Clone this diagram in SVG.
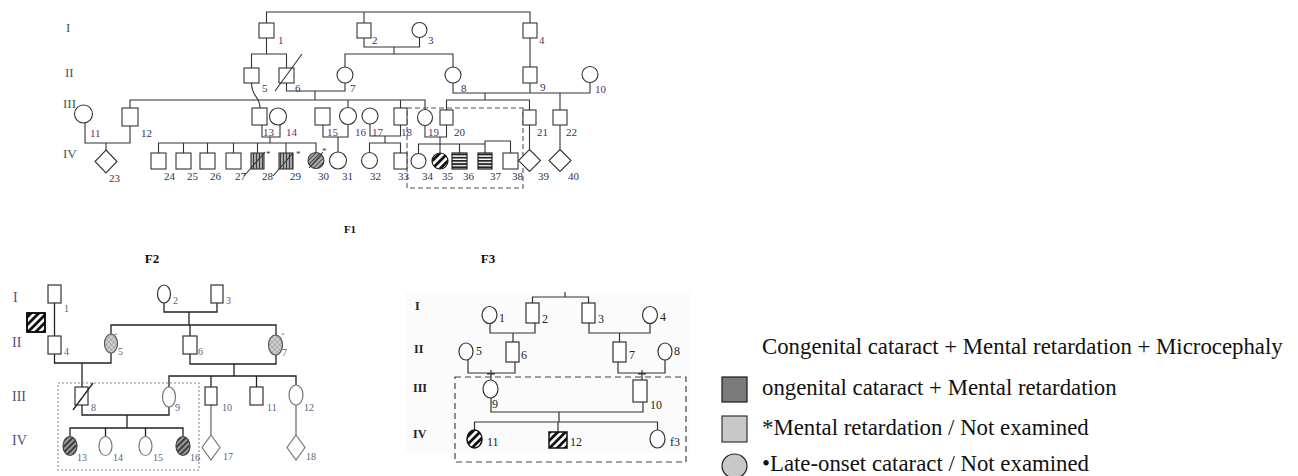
<svg xmlns="http://www.w3.org/2000/svg" width="1298" height="476" viewBox="0 0 1298 476">
<defs>
  <style>
    .ln{fill:none;stroke:#333;stroke-width:1.1}
    .ln2{fill:none;stroke:#222;stroke-width:1.3}
    .ln3{fill:none;stroke:#333;stroke-width:1.2}
    .s1{fill:#fff;stroke:#333;stroke-width:1.1}
    .s2{fill:#fff;stroke:#333;stroke-width:1.2}
    .s2g{fill:#fff;stroke:#777;stroke-width:1.2}
    .s3{fill:#fff;stroke:#333;stroke-width:1.2}
    .t{font-family:"Liberation Serif","Times New Roman",serif}
    .lb{font-size:11px;fill:#2d3455}
    .lp{font-size:11px;fill:#6b2c6b}
    .rn1{font-size:13px;fill:#3a5a4a}
    .lb2{font-size:10px;fill:#5a6080}
    .rn2{font-size:14px;fill:#5b4b7b}
    .lb3{font-size:12px;fill:#222}
    .rn3{font-size:12px;font-weight:bold;fill:#222}
    .ttl{font-weight:bold;fill:#111;text-anchor:middle}
    .leg{font-size:22.8px;fill:#111}
    .ast{font-size:9px;fill:#333}
    .box{fill:none;stroke:#555;stroke-width:1.1;stroke-dasharray:5 3}
  </style>
  <!-- vertical line hatch -->
  <pattern id="vl" width="3" height="10" patternUnits="userSpaceOnUse">
    <rect width="3" height="10" fill="#a8a8a8"/>
    <line x1="1.5" y1="0" x2="1.5" y2="10" stroke="#333" stroke-width="0.9"/>
  </pattern>
  <!-- thin diagonal hatch -->
  <pattern id="dt" width="3" height="10" patternUnits="userSpaceOnUse" patternTransform="rotate(45)">
    <rect width="3" height="10" fill="#b0b0b0"/>
    <line x1="1.5" y1="0" x2="1.5" y2="10" stroke="#333" stroke-width="0.9"/>
  </pattern>
  <!-- bold diagonal stripes -->
  <pattern id="db" width="5.5" height="10" patternUnits="userSpaceOnUse" patternTransform="rotate(45)">
    <rect width="5.5" height="10" fill="#fff"/>
    <rect width="2.8" height="10" fill="#111"/>
  </pattern>
  <!-- medium diagonal stripes -->
  <pattern id="dm" width="4" height="10" patternUnits="userSpaceOnUse" patternTransform="rotate(45)">
    <rect width="4" height="10" fill="#9a9a9a"/>
    <rect width="1.8" height="10" fill="#333"/>
  </pattern>
  <!-- horizontal stripes -->
  <pattern id="hs" width="10" height="3.2" patternUnits="userSpaceOnUse">
    <rect width="10" height="3.2" fill="#fff"/>
    <rect width="10" height="1.8" fill="#222"/>
  </pattern>
  <!-- cross-hatch with dots -->
  <pattern id="ch" width="3.5" height="3.5" patternUnits="userSpaceOnUse" patternTransform="rotate(45)">
    <rect width="3.5" height="3.5" fill="#d0d0d0"/>
    <path d="M0,0H3.5M0,0V3.5" stroke="#777" stroke-width="0.7"/>
  </pattern>
</defs>

<rect width="1298" height="476" fill="#fff"/>
<!-- faint scan background behind the third family -->
<rect x="405" y="292" width="285" height="161" fill="#fbfbfb"/>

<!-- ================= F1 ================= -->
<g id="f1-gen">
  <text class="t rn1" x="66" y="32">I</text>
  <text class="t rn1" x="65" y="77">II</text>
  <text class="t rn1" x="63" y="108">III</text>
  <text class="t rn1" x="63" y="158">IV</text>
</g>

<g id="f1-connectors">
  <path class="ln" d="M266.5,23V12H530V23M364,12V23"/>
  <path class="ln" d="M364,38V47H419.5V37.5M394,47V54M345,67V54H453V67"/>
  <path class="ln" d="M266.5,38V54M251.5,68V54H286.5V68M530,38V67"/>
  <path class="ln" d="M286.5,83V91H345V83M315,91V100"/>
  <path class="ln" d="M130,108V100H425V109.5M348,100V107.5M400.5,100V108"/>
  <path class="ln" d="M251.5,83C251.5,97 260,96 260,108"/>
  <path class="ln" d="M453,83V93H590V82.5M530,83V93M485,93V100M446.5,110V100H529.5V110M560,93V110"/>
  <path class="ln" d="M85,123V143H130V126M106,143V150"/>
  <path class="ln" d="M262,125V137H280V125M270,137V143M158.5,153V143H316V152M183.5,143V153M207.5,143V153M233.5,143V153M257.5,143V153M286,143V153"/>
  <path class="ln" d="M323,125V137H348V124.5M338,137V152"/>
  <path class="ln" d="M370,124V136H400.5V125M385,136V143M369.5,152V143H400.5V153"/>
  <path class="ln" d="M425,125.5V137H446.5V125M440,137V144M418.5,153.5V144H485V153M440,144V153M459.5,144V153M485,144V141H510.5V153"/>
  <path class="ln" d="M529.5,125V149.5M560,125V149.5"/>
  <rect class="box" x="407" y="108" width="116" height="80"/>
</g>

<g id="f1-n1"><rect class="s1" x="259" y="23" width="15" height="15"/><text class="t lp" x="278" y="44">1</text></g>
<g id="f1-n2"><rect class="s1" x="357" y="23" width="14" height="15"/><text class="t lb" x="372" y="44">2</text></g>
<g id="f1-n3"><circle class="s1" cx="419.5" cy="30" r="7.5"/><text class="t lb" x="428" y="44">3</text></g>
<g id="f1-n4"><rect class="s1" x="523" y="23" width="14" height="15"/><text class="t lp" x="539" y="44">4</text></g>
<g id="f1-n5"><rect class="s1" x="244" y="68" width="15" height="15"/><text class="t lb" x="262" y="92">5</text></g>
<g id="f1-n6"><rect class="s1" x="279" y="68" width="15" height="15"/><line class="ln" x1="275" y1="91" x2="302" y2="54"/><text class="t lb" x="295" y="92">6</text></g>
<g id="f1-n7"><circle class="s1" cx="345" cy="75" r="8"/><text class="t lb" x="350" y="92">7</text></g>
<g id="f1-n8"><circle class="s1" cx="453" cy="75" r="8"/><text class="t lb" x="461" y="92">8</text></g>
<g id="f1-n9"><rect class="s1" x="523" y="67" width="14" height="16"/><text class="t lb" x="540" y="91">9</text></g>
<g id="f1-n10"><circle class="s1" cx="590" cy="74.5" r="8"/><text class="t lp" x="595" y="93">10</text></g>
<g id="f1-n11"><circle class="s1" cx="83.5" cy="114" r="9"/><text class="t lp" x="90" y="137">11</text></g>
<g id="f1-n12"><rect class="s1" x="122" y="108" width="16" height="18"/><text class="t lb" x="141" y="137">12</text></g>
<g id="f1-n13"><rect class="s1" x="252" y="108" width="15" height="17"/><text class="t lp" x="263" y="136">13</text></g>
<g id="f1-n14"><circle class="s1" cx="278" cy="116.5" r="8.5"/><text class="t lp" x="286" y="136">14</text></g>
<g id="f1-n15"><rect class="s1" x="315" y="108" width="15" height="17"/><text class="t lp" x="327" y="136">15</text></g>
<g id="f1-n16"><circle class="s1" cx="348" cy="116" r="8.5"/><text class="t lp" x="355" y="136">16</text></g>
<g id="f1-n17"><circle class="s1" cx="370" cy="116" r="8"/><text class="t lp" x="372" y="136">17</text></g>
<g id="f1-n18"><rect class="s1" x="394" y="108" width="13" height="17"/><text class="t lp" x="401" y="136">18</text></g>
<g id="f1-n19"><ellipse class="s1" cx="425" cy="117.5" rx="7.5" ry="8"/><text class="t lp" x="428" y="136">19</text></g>
<g id="f1-n20"><rect class="s1" x="440" y="110" width="13" height="15"/><text class="t lb" x="454" y="136">20</text></g>
<g id="f1-n21"><rect class="s1" x="523" y="110" width="13" height="15"/><text class="t lb" x="537" y="136">21</text></g>
<g id="f1-n22"><rect class="s1" x="553" y="110" width="14" height="15"/><text class="t lb" x="566" y="136">22</text></g>
<g id="f1-n23"><polygon class="s1" points="106,150 117,161.5 106,173 95,161.5"/><text class="t lb" x="109" y="182">23</text></g>
<g id="f1-n24"><rect class="s1" x="151" y="153" width="15" height="16"/><text class="t lb" x="164" y="180">24</text></g>
<g id="f1-n25"><rect class="s1" x="176" y="153" width="15" height="16"/><text class="t lb" x="187" y="180">25</text></g>
<g id="f1-n26"><rect class="s1" x="200" y="153" width="15" height="16"/><text class="t lb" x="210" y="180">26</text></g>
<g id="f1-n27"><rect class="s1" x="226" y="153" width="15" height="16"/><text class="t lb" x="235" y="180">27</text></g>
<g id="f1-n28"><rect x="251" y="153" width="13" height="16" fill="url(#vl)" stroke="#333" stroke-width="1.1"/><line class="ln" x1="244" y1="176" x2="265" y2="152"/><text class="t ast" x="266" y="157">*</text><text class="t lb" x="262" y="180">28</text></g>
<g id="f1-n29"><rect x="279" y="153" width="14" height="16" fill="url(#vl)" stroke="#333" stroke-width="1.1"/><line class="ln" x1="273" y1="176" x2="293" y2="153"/><text class="t ast" x="296" y="157">*</text><text class="t lb" x="290" y="180">29</text></g>
<g id="f1-n30"><circle cx="316" cy="160.5" r="8" fill="url(#dt)" stroke="#333" stroke-width="1.1"/><line class="ln" x1="309" y1="168" x2="323" y2="152"/><text class="t ast" x="322" y="154">*</text><text class="t lb" x="318" y="180">30</text></g>
<g id="f1-n31"><circle class="s1" cx="338" cy="160.5" r="8.5"/><text class="t lb" x="342" y="180">31</text></g>
<g id="f1-n32"><circle class="s1" cx="369.5" cy="160.5" r="8"/><text class="t lb" x="370" y="180">32</text></g>
<g id="f1-n33"><rect class="s1" x="394" y="153" width="13" height="16"/><text class="t lb" x="398" y="180">33</text></g>
<g id="f1-n34"><circle class="s1" cx="418.5" cy="161" r="7.5"/><text class="t lb" x="422" y="180">34</text></g>
<g id="f1-n35"><circle cx="440" cy="161" r="8" fill="url(#db)" stroke="#222" stroke-width="1.2"/><text class="t lb" x="442" y="180">35</text></g>
<g id="f1-n36"><rect x="452" y="153" width="15" height="16" fill="url(#hs)" stroke="#222" stroke-width="1.2"/><text class="t lb" x="463" y="180">36</text></g>
<g id="f1-n37"><rect x="478" y="153" width="14" height="16" fill="url(#hs)" stroke="#222" stroke-width="1.2"/><text class="t lb" x="490" y="180">37</text></g>
<g id="f1-n38"><rect class="s1" x="503" y="153" width="15" height="16"/><text class="t lb" x="512" y="180">38</text></g>
<g id="f1-n39"><polygon class="s1" points="529.5,149.5 540.5,160.5 529.5,171.5 518.5,160.5"/><text class="t lb" x="538" y="180">39</text></g>
<g id="f1-n40"><polygon class="s1" points="560,149.5 571,160.5 560,171.5 549,160.5"/><text class="t lb" x="568" y="180">40</text></g>

<g id="f1-title"><text class="t ttl" x="350" y="233" font-size="11">F1</text></g>

<!-- ================= F2 ================= -->
<g id="f2-title"><text class="t ttl" x="152" y="263" font-size="13">F2</text></g>
<g id="f2-gen">
  <text class="t rn2" x="13" y="302">I</text>
  <text class="t rn2" x="12" y="347">II</text>
  <text class="t rn2" x="12" y="401">III</text>
  <text class="t rn2" x="12" y="445">IV</text>
</g>

<g id="f2-connectors">
  <path class="ln2" d="M54.5,303V336"/>
  <path class="ln2" d="M164,303V312H217V303M189,312V325M111,334V325H276V335M190,325V336"/>
  <path class="ln2" d="M54.5,354V363H111V353"/>
  <path class="ln2" d="M82,363V387"/>
  <path class="ln2" d="M190,354V364H276V355M234,364V376M169,387V376H296V385M211,376V387M256.5,376V387"/>
  <path class="ln2" d="M82,405V415H169V407M127,415V428M70,436.5V428H183V436.5M105.5,428V436.5M145.5,428V436.5"/>
  <path fill="none" stroke="#666" stroke-width="1.2" d="M211,405V435M296,405V435"/>
  <rect x="58" y="383" width="141" height="87" fill="none" stroke="#888" stroke-width="1.1" stroke-dasharray="2 2"/>
</g>

<g id="f2-mark"><rect x="27" y="313" width="18" height="19" fill="url(#db)" stroke="#000" stroke-width="1.8"/></g>
<g id="f2-n1"><rect class="s2" x="48" y="285" width="13" height="18"/><text class="t lb2" x="64" y="312">1</text></g>
<g id="f2-n2"><ellipse class="s2" cx="164" cy="294" rx="6.5" ry="9"/><text class="t lb2" x="173" y="304">2</text></g>
<g id="f2-n3"><rect class="s2" x="211" y="285" width="12" height="18"/><text class="t lb2" x="226" y="304">3</text></g>
<g id="f2-n4"><rect class="s2" x="48" y="336" width="13" height="18"/><text class="t lb2" x="64" y="355">4</text></g>
<g id="f2-n5"><ellipse cx="111" cy="343.5" rx="6.5" ry="9.5" fill="url(#ch)" stroke="#555" stroke-width="1.2"/><text class="t" x="114" y="337" font-size="7" fill="#777">*</text><text class="t lb2" x="118" y="355">5</text></g>
<g id="f2-n6"><rect class="s2" x="183" y="336" width="14" height="18"/><text class="t lb2" x="198" y="355">6</text></g>
<g id="f2-n7"><ellipse cx="275.5" cy="345" rx="7" ry="10" fill="url(#ch)" stroke="#555" stroke-width="1.2"/><text class="t" x="281" y="337" font-size="7" fill="#777">*</text><text class="t lb2" x="282" y="356">7</text></g>
<g id="f2-n8"><rect class="s2" x="75" y="387" width="13" height="18"/><line class="ln2" x1="73" y1="410" x2="93" y2="383"/><text class="t lb2" x="91" y="411">8</text></g>
<g id="f2-n9"><ellipse class="s2g" cx="169" cy="397" rx="6.5" ry="10"/><text class="t lb2" x="175" y="411">9</text></g>
<g id="f2-n10"><rect class="s2" x="205" y="387" width="12" height="18"/><text class="t lb2" x="222" y="411">10</text></g>
<g id="f2-n11"><rect class="s2" x="250" y="387" width="13" height="18"/><text class="t lb2" x="267" y="411">11</text></g>
<g id="f2-n12"><ellipse class="s2g" cx="296" cy="395" rx="7" ry="10"/><text class="t lb2" x="304" y="411">12</text></g>
<g id="f2-n13"><ellipse cx="70" cy="446" rx="7" ry="9.5" fill="url(#dm)" stroke="#444" stroke-width="1.2"/><text class="t lb2" x="77" y="461">13</text></g>
<g id="f2-n14"><ellipse class="s2g" cx="105.5" cy="446" rx="6.5" ry="9.5"/><text class="t lb2" x="113" y="461">14</text></g>
<g id="f2-n15"><ellipse class="s2g" cx="145.5" cy="446" rx="6.5" ry="9.5"/><text class="t lb2" x="153" y="461">15</text></g>
<g id="f2-n16"><ellipse cx="183" cy="446" rx="7" ry="9.5" fill="url(#dm)" stroke="#444" stroke-width="1.2"/><text class="t lb2" x="190" y="461">16</text></g>
<g id="f2-n17"><polygon class="s2g" points="211,435 220,447.5 211,460 202,447.5"/><text class="t lb2" x="223" y="460">17</text></g>
<g id="f2-n18"><polygon class="s2g" points="296,435 305,447.5 296,460 287,447.5"/><text class="t lb2" x="306" y="460">18</text></g>

<!-- ================= F3 ================= -->
<g id="f3-title"><text class="t ttl" x="488" y="263" font-size="13">F3</text></g>
<g id="f3-gen">
  <text class="t rn3" x="415" y="310">I</text>
  <text class="t rn3" x="414" y="353">II</text>
  <text class="t rn3" x="413" y="392">III</text>
  <text class="t rn3" x="413" y="438">IV</text>
</g>

<g id="f3-connectors">
  <path class="ln3" d="M532.5,303V297H588.5V303M565,297V292"/>
  <path class="ln3" d="M490,323.5V333H535V323M513,333V342"/>
  <path class="ln3" d="M589,323V333H650V323.5M619.5,333V342"/>
  <path class="ln3" d="M468,360V373H515V362M491,370V380M487,374H495"/>
  <path class="ln3" d="M618,362V373H665V360M642,370V380M638,374H646"/>
  <path class="ln3" d="M491,398V412H643V402M559,412V422M474.5,430V422H657.5V430M558,422V432"/>
  <rect x="455" y="377" width="231" height="85" fill="none" stroke="#444" stroke-width="1.2" stroke-dasharray="6 4"/>
</g>

<g id="f3-n1"><ellipse class="s3" cx="489.5" cy="315" rx="7.5" ry="8.5"/><text class="t lb3" x="499" y="322">1</text></g>
<g id="f3-n2"><rect class="s3" x="526" y="303" width="13" height="20"/><text class="t lb3" x="542" y="323">2</text></g>
<g id="f3-n3"><rect class="s3" x="582" y="303" width="13" height="20"/><text class="t lb3" x="598" y="323">3</text></g>
<g id="f3-n4"><ellipse class="s3" cx="650" cy="315" rx="7.5" ry="8.5"/><text class="t lb3" x="660" y="321">4</text></g>
<g id="f3-n5"><ellipse class="s3" cx="466" cy="351.5" rx="7" ry="8.5"/><text class="t lb3" x="476" y="355">5</text></g>
<g id="f3-n6"><rect class="s3" x="506" y="342" width="13" height="20"/><text class="t lb3" x="521" y="359">6</text></g>
<g id="f3-n7"><rect class="s3" x="613" y="342" width="13" height="20"/><text class="t lb3" x="629" y="359">7</text></g>
<g id="f3-n8"><ellipse class="s3" cx="665" cy="351.5" rx="7" ry="8.5"/><text class="t lb3" x="674" y="355">8</text></g>
<g id="f3-n9"><ellipse class="s3" cx="490.5" cy="389" rx="7.5" ry="9"/><text class="t lb3" x="492" y="408">9</text></g>
<g id="f3-n10"><rect class="s3" x="633" y="380" width="14" height="22"/><text class="t lb3" x="650" y="409">10</text></g>
<g id="f3-n11"><ellipse cx="474.5" cy="439" rx="7.5" ry="9" fill="url(#db)" stroke="#111" stroke-width="1.5"/><text class="t lb3" x="487" y="446">11</text></g>
<g id="f3-n12"><rect x="549" y="432" width="18" height="16" fill="url(#db)" stroke="#111" stroke-width="1.5"/><text class="t lb3" x="570" y="446">12</text></g>
<g id="f3-n13"><ellipse class="s3" cx="657.5" cy="439" rx="7.5" ry="9"/><text class="t lb3" x="670" y="446">f3</text></g>

<!-- ================= Legend ================= -->
<g id="legend">
  <text class="t leg" x="762" y="354">Congenital cataract + Mental retardation + Microcephaly</text>
  <rect x="722" y="377" width="25" height="25" fill="#7b7b7b" stroke="#1a1a1a" stroke-width="1.2"/>
  <text class="t leg" x="762" y="395">ongenital cataract + Mental retardation</text>
  <rect x="722" y="416" width="25" height="26" fill="#c8c8c8" stroke="#333" stroke-width="1.2"/>
  <text class="t leg" x="762" y="435">*Mental retardation / Not examined</text>
  <ellipse cx="734.5" cy="466" rx="12.5" ry="12" fill="#c8c8c8" stroke="#222" stroke-width="1.2"/>
  <text class="t leg" x="762" y="471">•Late-onset cataract / Not examined</text>
</g>
</svg>
